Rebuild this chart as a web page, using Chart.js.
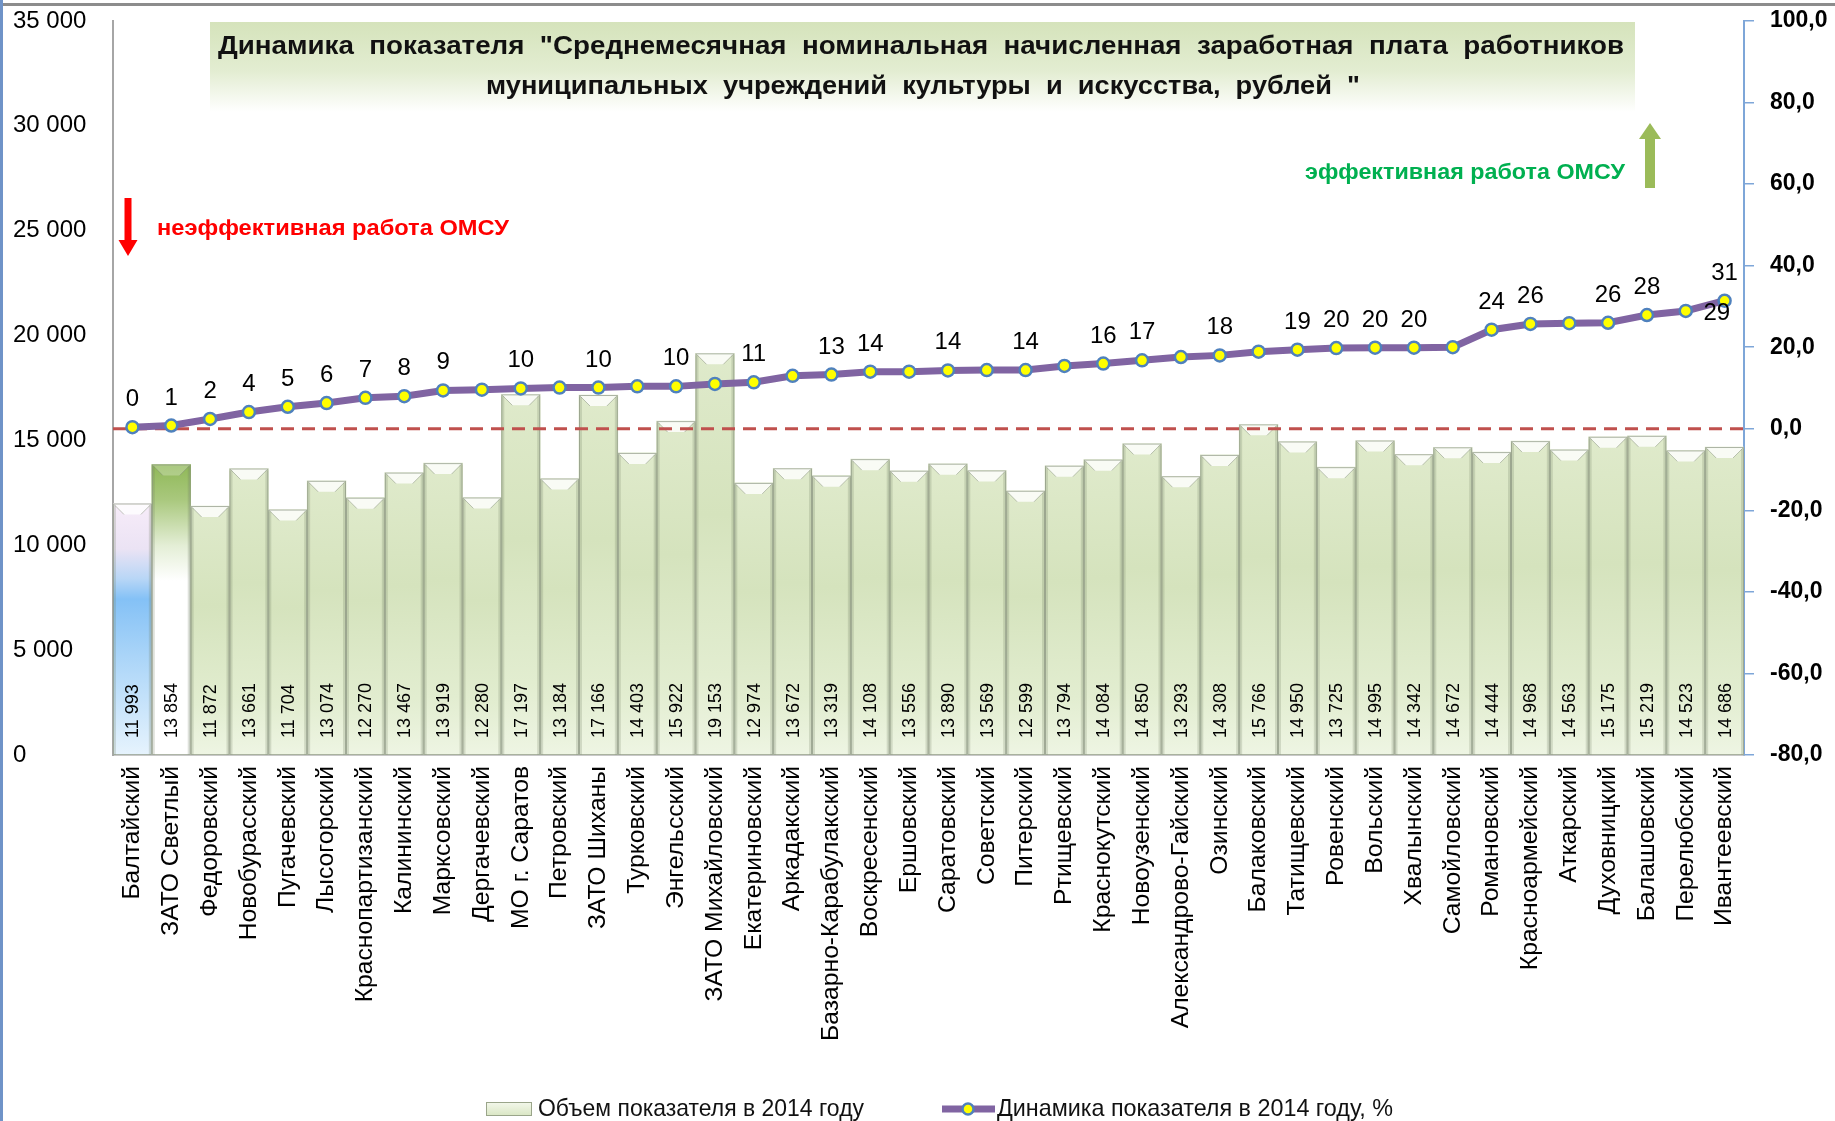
<!DOCTYPE html>
<html>
<head>
<meta charset="utf-8">
<script src="https://cdn.jsdelivr.net/npm/chart.js@4.4.0/dist/chart.umd.min.js"></script>
<style>
  html, body { margin: 0; padding: 0; background: #fff; }
  #wrap { width: 1835px; height: 1121px; position: relative; }
</style>
</head>
<body>
<div id="wrap"><canvas id="salary-culture-chart" width="1835" height="1121"></canvas></div>
<script>
var categories = [
  'Балтайский', 'ЗАТО Светлый', 'Федоровский', 'Новобурасский', 'Пугачевский',
  'Лысогорский', 'Краснопартизанский', 'Калининский', 'Марксовский', 'Дергачевский',
  'МО г. Саратов', 'Петровский', 'ЗАТО Шиханы', 'Турковский', 'Энгельсский',
  'ЗАТО Михайловский', 'Екатериновский', 'Аркадакский', 'Базарно-Карабулакский', 'Воскресенский',
  'Ершовский', 'Саратовский', 'Советский', 'Питерский', 'Ртищевский',
  'Краснокутский', 'Новоузенский', 'Александрово-Гайский', 'Озинский', 'Балаковский',
  'Татищевский', 'Ровенский', 'Вольский', 'Хвалынский', 'Самойловский',
  'Романовский', 'Красноармейский', 'Аткарский', 'Духовницкий', 'Балашовский',
  'Перелюбский', 'Ивантеевский'
];

// Объем показателя в 2014 году, рублей
var salary2014 = [
  11993, 13854, 11872, 13661, 11704, 13074, 12270, 13467, 13919, 12280,
  17197, 13184, 17166, 14403, 15922, 19153, 12974, 13672, 13319, 14108,
  13556, 13890, 13569, 12599, 13794, 14084, 14850, 13293, 14308, 15766,
  14950, 13725, 14995, 14342, 14672, 14444, 14968, 14563, 15175, 15219,
  14523, 14686
];

// Динамика показателя в 2014 году, %
var dynamics2014 = [
  0.4, 0.8, 2.4, 4.1, 5.4, 6.3, 7.6, 8.0, 9.4, 9.6,
  9.9, 10.1, 10.1, 10.4, 10.4, 11.0, 11.4, 13.0, 13.3, 14.0,
  14.0, 14.3, 14.4, 14.4, 15.4, 16.0, 16.8, 17.6, 18.0, 18.9,
  19.4, 19.8, 19.9, 19.9, 20.0, 24.3, 25.7, 25.9, 26.0, 27.9,
  28.9, 31.4
];

// labels shown over the line ('' = not shown in the original)
var dynamicsLabels = [
  '0', '1', '2', '4', '5', '6', '7', '8', '9', '',
  '10', '', '10', '', '10', '', '11', '', '13', '14',
  '', '14', '', '14', '', '16', '17', '', '18', '',
  '19', '20', '20', '20', '', '24', '26', '', '26', '28',
  '29', '31'
];

var leftAxis = { min: 0, max: 35000, step: 5000 };
var rightAxis = { min: -80, max: 100, step: 20 };

var chartTitle = [
  'Динамика показателя "Среднемесячная номинальная начисленная заработная плата работников',
  'муниципальных учреждений культуры и искусства, рублей "'
];
var legendTexts = ['Объем показателя в 2014 году', 'Динамика показателя в 2014 году, %'];

var SANS = '"Liberation Sans", Arial, sans-serif';

function thousands(v) {
  return String(v).replace(/\B(?=(\d{3})+(?!\d))/g, ' ');
}

// draws text squeezed/stretched to a given width (Calibri is narrower than what we have)
function fitText(ctx, text, x, y, width) {
  var w = ctx.measureText(text).width;
  var s = width / w;
  ctx.save();
  ctx.translate(x, y);
  ctx.scale(s, 1);
  ctx.textAlign = 'left';
  ctx.fillText(text, 0, 0);
  ctx.restore();
}

// keep the tick labels from pushing the plot area around
function noEdgePadding(scale) {
  scale.paddingTop = 0;
  scale.paddingBottom = 0;
}

function barFill(context) {
  var chart = context.chart;
  if (!chart.chartArea) return '#dde9c8';
  var i = context.dataIndex;
  var y = chart.scales.y;
  var top = y.getPixelForValue(salary2014[i]);
  var bottom = y.getPixelForValue(0);
  var g = chart.ctx.createLinearGradient(0, top, 0, bottom);
  if (i === 0) {
    g.addColorStop(0, '#f7ecf9');
    g.addColorStop(0.18, '#ebe3f4');
    g.addColorStop(0.3, '#b8d6f6');
    g.addColorStop(0.38, '#84c1f6');
    g.addColorStop(0.6, '#a9d4f8');
    g.addColorStop(1, '#e6f3fd');
  } else if (i === 1) {
    g.addColorStop(0, '#8fb857');
    g.addColorStop(0.12, '#a9c87d');
    g.addColorStop(0.28, '#e4eed6');
    g.addColorStop(0.4, '#ffffff');
    g.addColorStop(1, '#ffffff');
  } else {
    g.addColorStop(0, '#dfeacb');
    g.addColorStop(0.4, '#d5e3bd');
    g.addColorStop(0.8, '#e2edd0');
    g.addColorStop(1, '#eef5e3');
  }
  return g;
}

function drawArrow(ctx, x, y1, y2, shaft, head, headLen, color) {
  var dir = y2 > y1 ? 1 : -1;
  var yh = y2 - dir * headLen;
  ctx.fillStyle = color;
  ctx.beginPath();
  ctx.moveTo(x - shaft / 2, y1);
  ctx.lineTo(x + shaft / 2, y1);
  ctx.lineTo(x + shaft / 2, yh);
  ctx.lineTo(x + head / 2, yh);
  ctx.lineTo(x, y2);
  ctx.lineTo(x - head / 2, yh);
  ctx.lineTo(x - shaft / 2, yh);
  ctx.closePath();
  ctx.fill();
}

var decorPlugin = {
  id: 'decor',
  beforeDraw: function(chart) {
    var ctx = chart.ctx;
    ctx.save();
    ctx.fillStyle = '#fff';
    ctx.fillRect(0, 0, chart.width, chart.height);
    // frame of the original slide
    ctx.fillStyle = '#8c8c8c';
    ctx.fillRect(0, 3, chart.width, 3);
    ctx.fillStyle = '#6f93c8';
    ctx.fillRect(0, 0, 3, chart.height);

    // title box
    var g = ctx.createLinearGradient(0, 22, 0, 112);
    g.addColorStop(0, '#d5e3bb');
    g.addColorStop(0.55, '#e3edd2');
    g.addColorStop(1, '#ffffff');
    ctx.fillStyle = g;
    ctx.fillRect(210, 22, 1425, 90);

    ctx.fillStyle = '#111';
    ctx.font = 'bold 25px ' + SANS;
    ctx.textBaseline = 'middle';
    ctx.wordSpacing = '7px';
    fitText(ctx, chartTitle[0], 218, 47, 1406);
    fitText(ctx, chartTitle[1], 486, 87, 874);
    ctx.wordSpacing = '0px';

    // annotations
    drawArrow(ctx, 128, 198, 256, 7, 19, 16, '#ff0000');
    ctx.fillStyle = '#ff0000';
    ctx.font = 'bold 22px ' + SANS;
    fitText(ctx, 'неэффективная работа ОМСУ', 157, 229, 352);

    drawArrow(ctx, 1650, 188, 123, 10, 22, 16, '#9bbb59');
    ctx.fillStyle = '#00b050';
    fitText(ctx, 'эффективная работа ОМСУ', 1305, 173, 320);
    ctx.restore();
  },
  afterDatasetDraw: function(chart, args) {
    if (args.index !== 0) return;
    var ctx = chart.ctx;
    var meta = args.meta;
    ctx.save();
    meta.data.forEach(function(bar, i) {
      var p = bar.getProps(['x', 'y', 'width', 'base'], true);
      var l = p.x - p.width / 2, r = p.x + p.width / 2, t = p.y, b = p.base, bev = 11;
      // top bevel
      ctx.fillStyle = i === 1 ? 'rgba(255,255,255,0.25)' : 'rgba(255,255,255,0.8)';
      ctx.beginPath();
      ctx.moveTo(l, t);
      ctx.lineTo(r, t);
      ctx.lineTo(r - bev, t + bev);
      ctx.lineTo(l + bev, t + bev);
      ctx.closePath();
      ctx.fill();
      ctx.strokeStyle = 'rgba(120,130,110,0.45)';
      ctx.lineWidth = 1;
      ctx.beginPath();
      ctx.moveTo(l + 1, t + 1); ctx.lineTo(l + bev, t + bev);
      ctx.moveTo(r - 1, t + 1); ctx.lineTo(r - bev, t + bev);
      ctx.stroke();
      // side shading
      ctx.fillStyle = 'rgba(110,125,95,0.22)';
      ctx.fillRect(l, t + 2, 3, b - t - 2);
      ctx.fillRect(r - 3, t + 2, 3, b - t - 2);
      ctx.strokeStyle = 'rgba(140,150,130,0.7)';
      ctx.strokeRect(l + 0.5, t + 0.5, r - l - 1, b - t - 1);
      // value label
      ctx.save();
      ctx.translate(p.x, b - 17);
      ctx.rotate(-Math.PI / 2);
      ctx.fillStyle = '#000';
      ctx.font = '18px ' + SANS;
      ctx.textAlign = 'left';
      ctx.textBaseline = 'middle';
      ctx.fillText(thousands(salary2014[i]), 0, 1);
      ctx.restore();
    });
    // zero line of the dynamics axis
    var y0 = chart.scales.y1.getPixelForValue(0);
    ctx.strokeStyle = '#c0504d';
    ctx.lineWidth = 3;
    ctx.setLineDash([13, 8]);
    ctx.beginPath();
    ctx.moveTo(chart.chartArea.left, y0);
    ctx.lineTo(chart.chartArea.right, y0);
    ctx.stroke();
    ctx.restore();
  },
  afterDatasetsDraw: function(chart) {
    var ctx = chart.ctx;
    var meta = chart.getDatasetMeta(1);
    ctx.save();
    ctx.fillStyle = '#000';
    ctx.font = '24px ' + SANS;
    meta.data.forEach(function(pt, i) {
      var txt = dynamicsLabels[i];
      if (!txt) return;
      if (i === 40) {
        ctx.textAlign = 'center';
        ctx.textBaseline = 'middle';
        ctx.fillText(txt, pt.x + 31, pt.y + 2);
      } else {
        ctx.textAlign = 'center';
        ctx.textBaseline = 'alphabetic';
        ctx.fillText(txt, pt.x, pt.y - 21);
      }
    });
    ctx.restore();
  },
  afterDraw: function(chart) {
    var ctx = chart.ctx;
    ctx.save();
    var ly = 1109;
    // bar swatch
    var g = ctx.createLinearGradient(0, ly - 7, 0, ly + 7);
    g.addColorStop(0, '#f4f8ec');
    g.addColorStop(1, '#d9e6c3');
    ctx.fillStyle = g;
    ctx.fillRect(486, ly - 7, 46, 14);
    ctx.strokeStyle = '#9aa58a';
    ctx.lineWidth = 1;
    ctx.strokeRect(486.5, ly - 6.5, 45, 13);
    // line swatch
    ctx.strokeStyle = '#8064a2';
    ctx.lineWidth = 7;
    ctx.beginPath();
    ctx.moveTo(942, ly);
    ctx.lineTo(995, ly);
    ctx.stroke();
    ctx.beginPath();
    ctx.arc(968, ly, 5.5, 0, Math.PI * 2);
    ctx.fillStyle = '#ffff00';
    ctx.fill();
    ctx.strokeStyle = '#4f81bd';
    ctx.lineWidth = 2.5;
    ctx.stroke();

    ctx.fillStyle = '#111';
    ctx.font = '24px ' + SANS;
    ctx.textBaseline = 'middle';
    fitText(ctx, legendTexts[0], 538, ly, 326);
    fitText(ctx, legendTexts[1], 997, ly, 396);
    ctx.restore();
  }
};

var ctx = document.getElementById('salary-culture-chart');
var salaryChart = new Chart(ctx, {
  data: {
    labels: categories,
    datasets: [
      {
        type: 'bar',
        label: legendTexts[0],
        data: salary2014,
        yAxisID: 'y',
        order: 1,
        backgroundColor: barFill,
        borderWidth: 0,
        barPercentage: 1.0,
        categoryPercentage: 1.0
      },
      {
        type: 'line',
        label: legendTexts[1],
        data: dynamics2014,
        yAxisID: 'y1',
        order: 0,
        borderColor: '#8064a2',
        borderWidth: 7,
        tension: 0,
        pointRadius: 6,
        pointBackgroundColor: '#ffff00',
        pointBorderColor: '#4f81bd',
        pointBorderWidth: 2.5
      }
    ]
  },
  options: {
    responsive: false,
    animation: false,
    devicePixelRatio: 1,
    layout: { padding: { left: 13, top: 21, right: 0, bottom: 0 } },
    plugins: {
      legend: { display: false },
      title: { display: false },
      tooltip: { enabled: false }
    },
    scales: {
      x: {
        type: 'category',
        offset: true,
        grid: { display: false, drawTicks: false },
        border: { color: '#c8c8c8', width: 2 },
        ticks: {
          autoSkip: false,
          minRotation: 90,
          maxRotation: 90,
          padding: 11,
          color: '#000',
          font: { family: SANS, size: 24.7 }
        },
        afterFit: function(scale) { scale.height = 366; }
      },
      y: {
        position: 'left',
        min: leftAxis.min,
        max: leftAxis.max,
        grid: { display: false },
        border: { color: '#a6a6a6', width: 2 },
        ticks: {
          stepSize: leftAxis.step,
          crossAlign: 'far',
          color: '#000',
          font: { family: SANS, size: 24 },
          callback: function(v) { return thousands(v); }
        },
        afterFit: function(scale) {
          scale.width = 100;
          noEdgePadding(scale);
        }
      },
      y1: {
        position: 'right',
        min: rightAxis.min,
        max: rightAxis.max,
        grid: { drawOnChartArea: false, color: '#7ea6d8', tickLength: 10, lineWidth: 1.5 },
        border: { color: '#7ea6d8', width: 2 },
        ticks: {
          stepSize: rightAxis.step,
          padding: 16,
          color: '#000',
          font: { family: SANS, size: 23, weight: 'bold' },
          callback: function(v) { return v.toFixed(1).replace('.', ','); }
        },
        afterFit: function(scale) {
          scale.width = 91;
          noEdgePadding(scale);
        }
      }
    }
  },
  plugins: [decorPlugin]
});
</script>
</body>
</html>
